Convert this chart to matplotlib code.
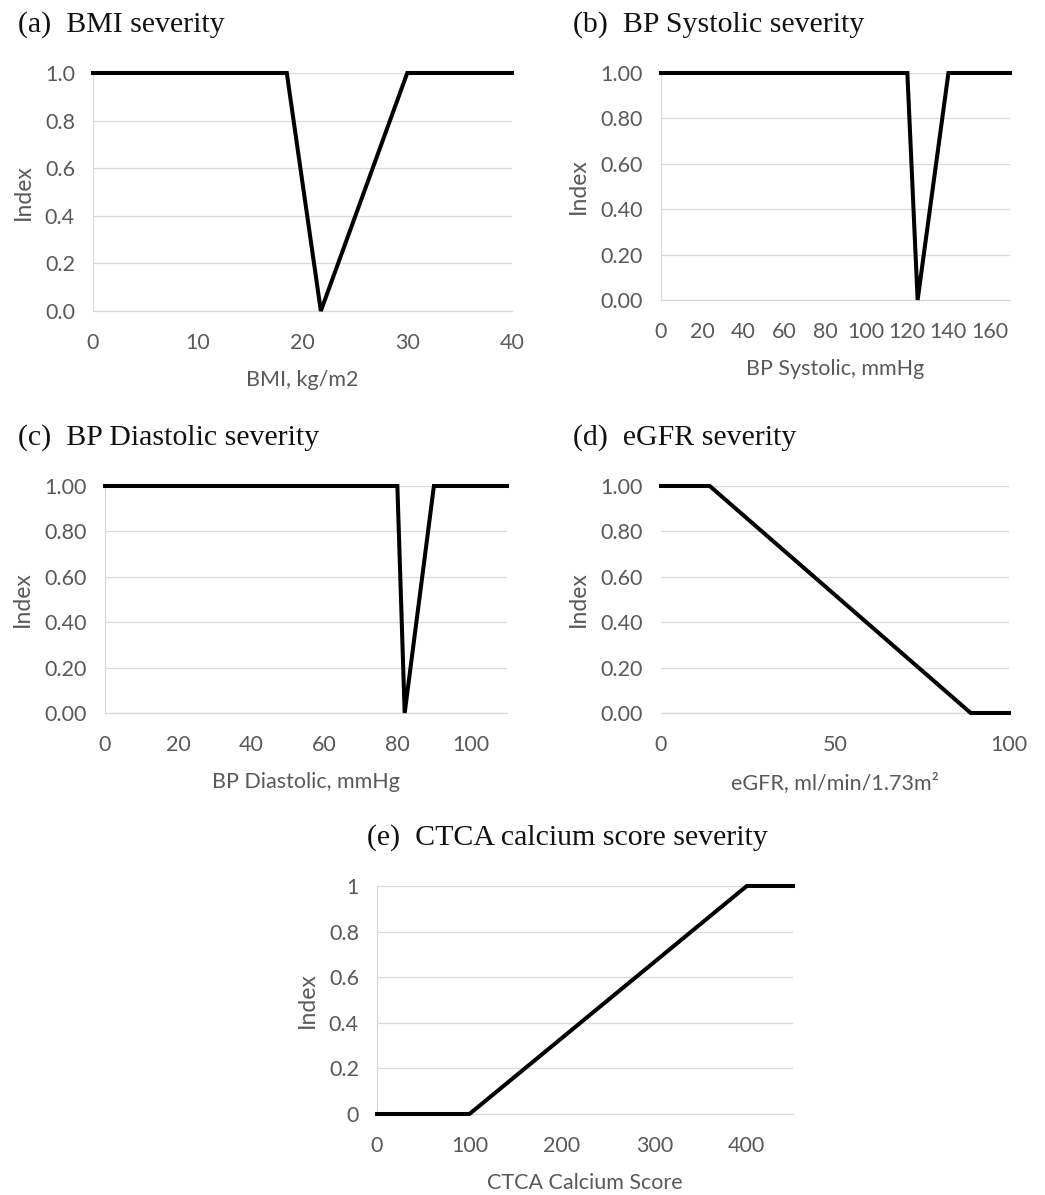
import matplotlib
matplotlib.use("Agg")
import matplotlib.pyplot as plt
from matplotlib.ticker import FormatStrFormatter, FuncFormatter

# ---- data ----
bmi_x = [0, 18.5, 21.75, 30, 40]
bmi_y = [1, 1, 0, 1, 1]

sys_x = [0, 120, 125, 140, 170]
sys_y = [1, 1, 0, 1, 1]

dia_x = [0, 80, 82, 90, 110]
dia_y = [1, 1, 0, 1, 1]

egfr_x = [0, 14, 89, 100]
egfr_y = [1, 1, 0, 0]

ctca_x = [0, 100, 400, 450]
ctca_y = [0, 0, 1, 1]

W, H = 1045, 1195
TICK_FONT = "Lato"
TITLE_FONT = "Liberation Serif"
GRID = "#d9d9d9"
TXT = "#595959"


def px_axes(fig, left, right, top, bottom):
    # pixel box -> figure fraction
    return fig.add_axes([left / W, 1 - bottom / H, (right - left) / W, (bottom - top) / H])


def panel(fig, box, x, y, xlim, xticks, yfmt, xlabel, title, title_xy, left_spine=True):
    ax = px_axes(fig, *box)
    ax.plot(x, y, color="black", lw=2.9, solid_joinstyle="miter", clip_on=False, zorder=3)
    ax.set_xlim(*xlim)
    ax.set_ylim(0, 1)
    ax.set_xticks(xticks)
    ax.set_yticks([0, 0.2, 0.4, 0.6, 0.8, 1.0])
    ax.yaxis.set_major_formatter(yfmt)
    ax.grid(axis="y", color=GRID, lw=0.9)
    ax.set_axisbelow(True)
    for s in ("top", "right"):
        ax.spines[s].set_visible(False)
    ax.spines["bottom"].set_color(GRID)
    ax.spines["bottom"].set_linewidth(0.9)
    if left_spine:
        ax.spines["left"].set_color(GRID)
        ax.spines["left"].set_linewidth(0.9)
    else:
        ax.spines["left"].set_visible(False)
    ax.tick_params(length=0, labelsize=15.5, labelcolor=TXT)
    ax.tick_params(axis="x", pad=16)
    ax.tick_params(axis="y", pad=13)
    for lab in ax.get_xticklabels() + ax.get_yticklabels():
        lab.set_fontfamily(TICK_FONT)
    ax.set_xlabel(xlabel, fontsize=15.5, color=TXT, family=TICK_FONT, labelpad=12)
    ax.set_ylabel("Index", fontsize=16.5, color=TXT, family=TICK_FONT, labelpad=8)
    fig.text(title_xy[0] / W, 1 - title_xy[1] / H, title, fontsize=21.5,
             family=TITLE_FONT, ha="left", va="center", color="#111111")
    return ax


fig = plt.figure(figsize=(W / 100, H / 100), dpi=100)
fig.patch.set_facecolor("white")

f1 = FormatStrFormatter("%.1f")
f2 = FormatStrFormatter("%.2f")
fg = FuncFormatter(lambda v, p: "%g" % round(v, 2))

panel(fig, (93, 512, 73, 311), bmi_x, bmi_y, (0, 40), [0, 10, 20, 30, 40], f1,
      "BMI, kg/m2", "(a)  BMI severity", (18, 25))
panel(fig, (661, 1010, 73, 300), sys_x, sys_y, (0, 170), list(range(0, 161, 20)), f2,
      "BP Systolic, mmHg", "(b)  BP Systolic severity", (573, 25))
panel(fig, (105, 507, 486, 713), dia_x, dia_y, (0, 110), list(range(0, 101, 20)), f2,
      "BP Diastolic, mmHg", "(c)  BP Diastolic severity", (18, 438))
panel(fig, (661, 1009, 486, 713), egfr_x, egfr_y, (0, 100), [0, 50, 100], f2,
      "eGFR, ml/min/1.73m²", "(d)  eGFR severity", (573, 438), left_spine=False)
panel(fig, (377, 793, 886, 1114), ctca_x, ctca_y, (0, 450), [0, 100, 200, 300, 400], fg,
      "CTCA Calcium Score", "(e)  CTCA calcium score severity", (367, 838))

fig.savefig("out.png", dpi=100, facecolor="white")
